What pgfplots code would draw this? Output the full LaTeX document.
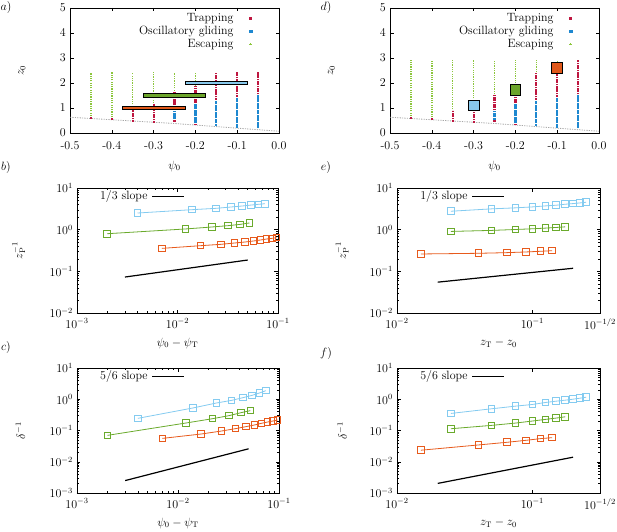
\documentclass[border=0pt]{standalone}
\usepackage{pgfplots}
\pgfplotsset{compat=1.18}
\definecolor{trapc}{HTML}{BE1640}
\definecolor{oscc}{HTML}{1E88D0}
\definecolor{escc}{HTML}{8CC63C}
\definecolor{blueL}{HTML}{84CBF0}
\definecolor{greenL}{HTML}{6AAA2C}
\definecolor{orangeL}{HTML}{E75A1C}
\definecolor{barO}{HTML}{E0581A}
\definecolor{barG}{HTML}{6CA52B}
\definecolor{barB}{HTML}{88C8EC}

\pgfplotsset{
  unbounded coords=jump,
  panel/.style={scale only axis, anchor=south west, height=125pt,
    axis line style={line width=0.6pt}, tick style={line width=0.5pt, black},
    major tick length=3.5pt, minor tick length=2pt,
    xticklabel style={yshift=-1.5pt}},
  trap/.style={trapc, line width=2.2pt, dash pattern=on 1.7pt off 0.6pt, forget plot},
  osc/.style={oscc, line width=2.3pt, dash pattern=on 2pt off 0.35pt, forget plot},
  esc/.style={escc, line width=1.4pt, dash pattern=on 1.2pt off 1.1pt, forget plot},
  pw/.style={line width=0.8pt, mark=square, mark size=3.3pt, mark options={line width=1pt, solid}, forget plot},
  scatleg/.style={legend cell align=right, legend plot pos=right,
    legend style={draw=none, fill=none, at={(axis description cs:0.871,0.975)}, anchor=north east,
      inner sep=0pt, row sep=-1.2pt, column sep=14pt}},
  slopeleg/.style={legend plot pos=right,
    legend style={draw=none, fill=none, at={(axis description cs:#1,0.995)}, anchor=north west,
      inner sep=0pt, column sep=2pt},
    legend image code/.code={\draw[##1] (0pt,0pt) -- (32pt,0pt);}},
}

\begin{document}
\fontsize{12}{14.4}\selectfont
\begin{tikzpicture}[x=1pt,y=1pt]

% a)
\begin{axis}[panel, at={(70pt,398pt)}, width=209pt,
  xmin=-0.5, xmax=0, ymin=0, ymax=5,
  xtick={-0.5,-0.4,-0.3,-0.2,-0.1,0}, xticklabels={-0.5,-0.4,-0.3,-0.2,-0.1,0.0},
  ytick={0,1,2,3,4,5}, xticklabel style={yshift=-2.5pt},
  xlabel={$\psi_0$}, ylabel={$z_0$},
  xlabel style={at={(axis description cs:0.5,-0.265)}, anchor=center},
  ylabel style={at={(axis description cs:-0.23,0.5)}, anchor=center},
  scatleg]
\addlegendimage{only marks, mark=square*, mark size=1pt, trapc}
\addlegendentry{Trapping}
\addlegendimage{only marks, mark=square*, mark size=1.2pt, oscc}
\addlegendentry{Oscillatory gliding}
\addlegendimage{only marks, mark=+, mark size=1.2pt, escc, line width=0.8pt}
\addlegendentry{Escaping}
\addplot[gray!70, line width=0.8pt, dash pattern=on 1.2pt off 1.2pt, forget plot] coordinates {(-0.5,0.63) (-0.25,0.38) (0,0.07)};
\addplot[esc] coordinates {
 (-0.45,0.68)(-0.45,2.42) (-0.45,nan)
 (-0.4,0.63)(-0.4,2.42) (-0.4,nan)
 (-0.35,0.96)(-0.35,2.42) (-0.35,nan)
 (-0.3,1.2)(-0.3,2.42) (-0.3,nan)
 (-0.25,1.69)(-0.25,2.42) (-0.25,nan)
 (-0.2,1.89)(-0.2,2.42)};
\addplot[trap] coordinates {
 (-0.45,0.58)(-0.45,0.65) (-0.45,nan)
 (-0.4,0.53)(-0.4,0.6) (-0.4,nan)
 (-0.35,0.46)(-0.35,0.93) (-0.35,nan)
 (-0.3,0.42)(-0.3,1.17) (-0.3,nan)
 (-0.25,0.44)(-0.25,0.53) (-0.25,nan)
 (-0.25,0.93)(-0.25,1.66) (-0.25,nan)
 (-0.2,0.32)(-0.2,0.37) (-0.2,nan)
 (-0.2,1.2)(-0.2,1.86) (-0.2,nan)
 (-0.15,1.33)(-0.15,2.42) (-0.15,nan)
 (-0.1,1.45)(-0.1,2.42) (-0.1,nan)
 (-0.05,1.55)(-0.05,2.42)};
\addplot[osc] coordinates {
 (-0.25,0.55)(-0.25,0.9) (-0.25,nan)
 (-0.2,0.39)(-0.2,1.17) (-0.2,nan)
 (-0.15,0.3)(-0.15,1.3) (-0.15,nan)
 (-0.1,0.2)(-0.1,1.42) (-0.1,nan)
 (-0.05,0.19)(-0.05,1.52)};
\addplot[fill=barO, draw=black, line width=0.9pt, forget plot] coordinates {(-0.375,0.925)(-0.225,0.925)(-0.225,1.075)(-0.375,1.075)} -- cycle;
\addplot[fill=barG, draw=black, line width=0.9pt, forget plot] coordinates {(-0.325,1.425)(-0.175,1.425)(-0.175,1.575)(-0.325,1.575)} -- cycle;
\addplot[fill=barB, draw=black, line width=0.9pt, forget plot] coordinates {(-0.225,1.925)(-0.075,1.925)(-0.075,2.075)(-0.225,2.075)} -- cycle;
\end{axis}

% d)
\begin{axis}[panel, at={(390pt,398pt)}, width=209pt,
  xmin=-0.5, xmax=0, ymin=0, ymax=5,
  xtick={-0.5,-0.4,-0.3,-0.2,-0.1,0}, xticklabels={-0.5,-0.4,-0.3,-0.2,-0.1,0.0},
  ytick={0,1,2,3,4,5}, xticklabel style={yshift=-2.5pt},
  xlabel={$\psi_0$}, ylabel={$z_0$},
  xlabel style={at={(axis description cs:0.5,-0.265)}, anchor=center},
  ylabel style={at={(axis description cs:-0.28,0.5)}, anchor=center},
  scatleg]
\addlegendimage{only marks, mark=square*, mark size=1pt, trapc}
\addlegendentry{Trapping}
\addlegendimage{only marks, mark=square*, mark size=1.2pt, oscc}
\addlegendentry{Oscillatory gliding}
\addlegendimage{only marks, mark=+, mark size=1.2pt, escc, line width=0.8pt}
\addlegendentry{Escaping}
\addplot[gray!70, line width=0.8pt, dash pattern=on 1.2pt off 1.2pt, forget plot] coordinates {(-0.5,0.63) (-0.25,0.38) (0,0.07)};
\addplot[esc] coordinates {
 (-0.45,0.68)(-0.45,2.92) (-0.45,nan)
 (-0.4,0.63)(-0.4,2.92) (-0.4,nan)
 (-0.35,0.95)(-0.35,2.92) (-0.35,nan)
 (-0.3,1.2)(-0.3,2.92) (-0.3,nan)
 (-0.25,1.55)(-0.25,2.92) (-0.25,nan)
 (-0.2,1.89)(-0.2,2.92) (-0.2,nan)
 (-0.15,2.43)(-0.15,2.92) (-0.15,nan)
 (-0.1,2.85)(-0.1,2.92)};
\addplot[trap] coordinates {
 (-0.45,0.58)(-0.45,0.65) (-0.45,nan)
 (-0.4,0.53)(-0.4,0.6) (-0.4,nan)
 (-0.35,0.46)(-0.35,0.92) (-0.35,nan)
 (-0.3,0.42)(-0.3,1.17) (-0.3,nan)
 (-0.25,0.44)(-0.25,0.52) (-0.25,nan)
 (-0.25,0.91)(-0.25,1.52) (-0.25,nan)
 (-0.2,0.32)(-0.2,0.37) (-0.2,nan)
 (-0.2,1.2)(-0.2,1.86) (-0.2,nan)
 (-0.15,1.33)(-0.15,2.4) (-0.15,nan)
 (-0.1,1.45)(-0.1,2.82) (-0.1,nan)
 (-0.05,1.55)(-0.05,2.92)};
\addplot[osc] coordinates {
 (-0.25,0.54)(-0.25,0.88) (-0.25,nan)
 (-0.2,0.39)(-0.2,1.17) (-0.2,nan)
 (-0.15,0.3)(-0.15,1.3) (-0.15,nan)
 (-0.1,0.2)(-0.1,1.42) (-0.1,nan)
 (-0.05,0.19)(-0.05,1.52)};
\addplot[only marks, mark=square*, mark size=5.4pt, mark options={fill=barB, draw=black, line width=1pt}, forget plot] coordinates {(-0.3,1.1)};
\addplot[only marks, mark=square*, mark size=5.4pt, mark options={fill=barG, draw=black, line width=1pt}, forget plot] coordinates {(-0.2,1.73)};
\addplot[only marks, mark=square*, mark size=5.4pt, mark options={fill=barO, draw=black, line width=1pt}, forget plot] coordinates {(-0.1,2.6)};
\end{axis}

% b)
\begin{axis}[panel, at={(77pt,218pt)}, width=201pt,
  xmode=log, ymode=log, xmin=1e-3, xmax=1e-1, ymin=1e-2, ymax=1e1,
  xlabel={$\psi_0-\psi_{\mathrm{T}}$}, ylabel={$z_{\mathrm{P}}^{-1}$},
  xlabel style={at={(axis description cs:0.5,-0.24)}, anchor=center},
  ylabel style={at={(axis description cs:-0.29,0.5)}, anchor=center},
  slopeleg=0.104]
\addplot[pw, blueL] coordinates {(0.004,2.51)(0.014,3.02)(0.024,3.25)(0.034,3.5)(0.044,3.7)(0.054,3.9)(0.064,4.06)(0.074,4.2)};
\addplot[pw, greenL] coordinates {(0.002,0.80)(0.012,1.04)(0.022,1.16)(0.032,1.25)(0.042,1.34)(0.052,1.45)};
\addplot[pw, orangeL] coordinates {(0.007,0.356)(0.017,0.413)(0.027,0.445)(0.037,0.479)(0.047,0.506)(0.057,0.535)(0.067,0.565)(0.077,0.597)(0.087,0.62)(0.097,0.643)};
\addplot[black, line width=1.2pt] coordinates {(0.003,0.073)(0.05,0.187)};
\addlegendentry{1/3 slope}
\end{axis}

% e)
\begin{axis}[panel, at={(397pt,218pt)}, width=203pt,
  xmode=log, ymode=log, xmin=1e-2, xmax=0.316228, ymin=1e-2, ymax=1e1,
  xtick={0.01,0.1,0.316228}, xticklabels={$10^{-2}$,$10^{-1}$,$10^{-1/2}$}, xminorticks=false,
  xlabel={$z_{\mathrm{T}}-z_0$}, ylabel={$z_{\mathrm{P}}^{-1}$},
  xlabel style={at={(axis description cs:0.5,-0.24)}, anchor=center},
  ylabel style={at={(axis description cs:-0.27,0.5)}, anchor=center},
  slopeleg=0.104]
\addplot[pw, blueL] coordinates {(0.025,2.77)(0.05,3.16)(0.075,3.34)(0.1,3.52)(0.125,3.72)(0.15,3.86)(0.175,4.08)(0.2,4.23)(0.225,4.39)(0.25,4.55)};
\addplot[pw, greenL] coordinates {(0.025,0.908)(0.05,0.96)(0.075,1.01)(0.1,1.05)(0.125,1.09)(0.15,1.13)(0.175,1.17)};
\addplot[pw, orangeL] coordinates {(0.015,0.261)(0.04,0.271)(0.065,0.281)(0.09,0.292)(0.115,0.303)(0.14,0.313)};
\addplot[black, line width=1.2pt] coordinates {(0.02,0.055)(0.2,0.1185)};
\addlegendentry{1/3 slope}
\end{axis}

% c)
\begin{axis}[panel, at={(77pt,38pt)}, width=202pt,
  xmode=log, ymode=log, xmin=1e-3, xmax=1e-1, ymin=1e-3, ymax=1e1,
  xlabel={$\psi_0-\psi_{\mathrm{T}}$}, ylabel={$\delta^{-1}$},
  xlabel style={at={(axis description cs:0.5,-0.24)}, anchor=center},
  ylabel style={at={(axis description cs:-0.28,0.5)}, anchor=center},
  slopeleg=0.104]
\addplot[pw, blueL] coordinates {(0.004,0.245)(0.014,0.525)(0.024,0.759)(0.034,0.923)(0.044,1.125)(0.054,1.334)(0.064,1.585)(0.074,1.88)};
\addplot[pw, greenL] coordinates {(0.002,0.070)(0.012,0.174)(0.022,0.239)(0.032,0.299)(0.042,0.372)(0.052,0.432)};
\addplot[pw, orangeL] coordinates {(0.007,0.056)(0.017,0.0773)(0.027,0.0964)(0.037,0.1145)(0.047,0.133)(0.057,0.150)(0.067,0.170)(0.077,0.187)(0.087,0.201)(0.097,0.217)};
\addplot[black, line width=1.2pt] coordinates {(0.003,0.0025)(0.05,0.026)};
\addlegendentry{5/6 slope}
\end{axis}

% f)
\begin{axis}[panel, at={(397pt,38pt)}, width=203pt,
  xmode=log, ymode=log, xmin=1e-2, xmax=0.316228, ymin=1e-3, ymax=1e1,
  xtick={0.01,0.1,0.316228}, xticklabels={$10^{-2}$,$10^{-1}$,$10^{-1/2}$}, xminorticks=false,
  xlabel={$z_{\mathrm{T}}-z_0$}, ylabel={$\delta^{-1}$},
  xlabel style={at={(axis description cs:0.5,-0.24)}, anchor=center},
  ylabel style={at={(axis description cs:-0.27,0.5)}, anchor=center},
  slopeleg=0.104]
\addplot[pw, blueL] coordinates {(0.025,0.352)(0.05,0.496)(0.075,0.602)(0.1,0.681)(0.125,0.788)(0.15,0.869)(0.175,0.935)(0.2,1.006)(0.225,1.082)(0.25,1.164)};
\addplot[pw, greenL] coordinates {(0.025,0.114)(0.05,0.146)(0.075,0.173)(0.1,0.201)(0.125,0.227)(0.15,0.25)(0.175,0.275)};
\addplot[pw, orangeL] coordinates {(0.015,0.0234)(0.04,0.0345)(0.065,0.042)(0.09,0.0486)(0.115,0.055)(0.14,0.059)};
\addplot[black, line width=1.2pt] coordinates {(0.02,0.00203)(0.2,0.014)};
\addlegendentry{5/6 slope}
\end{axis}

\node at (6,523) {$a)$};
\node at (326,523) {$d)$};
\node at (6,364) {$b)$};
\node at (326,364) {$e)$};
\node at (6,184) {$c)$};
\node at (326,178) {$f)$};

\pgfresetboundingbox
\useasboundingbox (0,0) rectangle (617,531);
\end{tikzpicture}
\end{document}
